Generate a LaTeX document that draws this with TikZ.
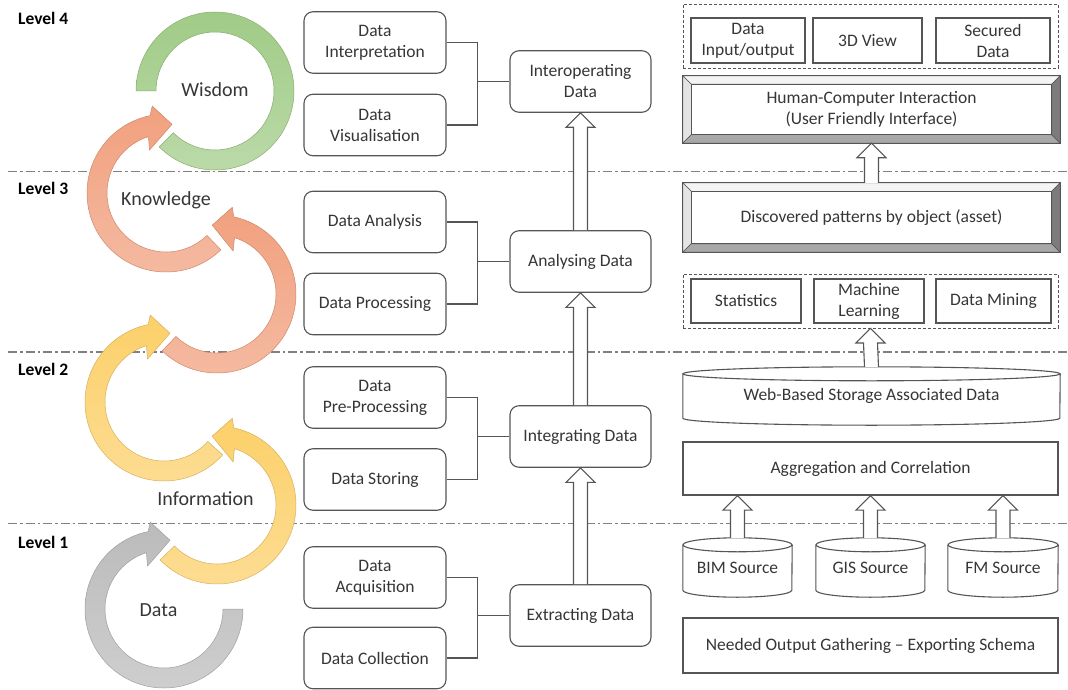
\documentclass[tikz,border=0pt]{standalone}
\usepackage{fontspec}
\setmainfont{Carlito}
\usetikzlibrary{calc}
\definecolor{txt}{HTML}{363636}
\definecolor{bord}{HTML}{555555}
\definecolor{dashc}{HTML}{808080}
\definecolor{cgray}{HTML}{BBBBBB}
\definecolor{cyel}{HTML}{FCD06A}
\definecolor{cora}{HTML}{F1A07E}
\definecolor{cgreen}{HTML}{A0CB86}
\definecolor{bvtop}{HTML}{F4F4F4}
\definecolor{bvleft}{HTML}{E4E4E4}
\definecolor{bvbot}{HTML}{A8A8A8}
\definecolor{bvright}{HTML}{7C7C7C}
\tikzset{
  every node/.style={text=txt, font=\fontsize{17.5}{21}\selectfont, align=center, inner sep=0pt},
  rbox/.style={draw=bord, line width=1.1pt, rounded corners=9pt, fill=white, minimum height=61.5pt},
  sbox/.style={draw=bord, line width=1.1pt, fill=white},
  grp/.style={draw=bord, line width=0.9pt, dash pattern=on 3pt off 2pt},
  lvl/.style={font=\fontsize{17.5}{20}\selectfont\bfseries, text=black, anchor=west},
  bigl/.style={font=\fontsize{20}{24}\selectfont},
  ring/.style={top color=#1, bottom color=#1!72!white, draw=#1!85!black, line width=0.5pt},
  blk/.style={draw=bord, line width=1.1pt, fill=white, line join=miter},
  conn/.style={draw=bord, line width=1.1pt},
  sep/.style={draw=dashc, line width=1.2pt, dash pattern=on 9pt off 3pt on 2.5pt off 3pt},
  face/.style={fill=#1, draw=bord, line width=0.6pt},
}
\newcommand\cwring[4]{\path[ring=#4, shift={(#1,#2)}] (#3:79pt) arc[start angle=#3, end angle=-258.4, radius=79pt] -- (-261:88pt) -- (-275:69pt) -- (-249:46pt) -- (-252.7:59pt) arc[start angle=-252.7, end angle=#3, radius=59pt] -- cycle;}
\newcommand\ccwring[4]{\path[ring=#4, shift={(#1,#2)}] (#3:79pt) arc[start angle=#3, end angle=437.75, radius=79pt] -- (440:88pt) -- (454:69pt) -- (429.5:46pt) -- (432.75:59pt) arc[start angle=432.75, end angle=#3, radius=59pt] -- cycle;}
\newcommand\uparr[2]{\draw[blk] ($(#1)+(-7,0)$) -- ($(#2)+(-7,-14.5)$) -- ($(#2)+(-14.5,-14.5)$) -- (#2) -- ($(#2)+(14.5,-14.5)$) -- ($(#2)+(7,-14.5)$) -- ($(#1)+(7,0)$);}
\newcommand\bevel[1]{%
  \path[face=bvtop] (#1.north west) -- (#1.north east) -- ($(#1.north east)+(-8.5,-8.5)$) -- ($(#1.north west)+(8.5,-8.5)$) -- cycle;
  \path[face=bvleft] (#1.north west) -- ($(#1.north west)+(8.5,-8.5)$) -- ($(#1.south west)+(8.5,8.5)$) -- (#1.south west) -- cycle;
  \path[face=bvbot] (#1.south west) -- ($(#1.south west)+(8.5,8.5)$) -- ($(#1.south east)+(-8.5,8.5)$) -- (#1.south east) -- cycle;
  \path[face=bvright] (#1.south east) -- ($(#1.south east)+(-8.5,8.5)$) -- ($(#1.north east)+(-8.5,-8.5)$) -- (#1.north east) -- cycle;
  \draw[bord, line width=1.1pt] (#1.north west) rectangle (#1.south east);
  \draw[bord, line width=1pt] ($(#1.north west)+(8.5,-8.5)$) rectangle ($(#1.south east)+(-8.5,8.5)$);}
\newcommand\cyl[2]{%
  \draw[bord, line width=1.1pt] ($(#1.north west)+(0,-7)$) -- ($(#1.south west)+(0,7)$) arc[start angle=180, end angle=360, x radius=#2pt, y radius=7pt] -- ($(#1.north east)+(0,-7)$);
  \draw[bord, line width=1.1pt] ($(#1.north)+(0,-7)$) ellipse[x radius=#2pt, y radius=7pt];}
\begin{document}
\begin{tikzpicture}[x=1pt,y=1pt]
\useasboundingbox (0,0) rectangle (1068,-690);
% level separators
\foreach \yy in {171.5,352,523.5} \draw[sep] (8,-\yy) -- (1068,-\yy);
% level labels
\node[lvl] (l4) at (18,-18) {Level 4};
\node[lvl] (l3) at (18,-188) {Level 3};
\node[lvl] (l2) at (18,-369) {Level 2};
\node[lvl] (l1) at (18,-542) {Level 1};
% cycle arrows
\cwring{164}{-609}{0}{cgray}
\ccwring{217}{-505}{224}{cyel}
\cwring{164}{-402}{-42}{cyel}
\ccwring{217}{-294}{226}{cora}
\cwring{166}{-193}{-46}{cora}
\path[ring=cgreen, shift={(215,-91)}] (180:79pt) arc[start angle=180, end angle=-135, radius=79pt] -- (-135:59pt) arc[start angle=-135, end angle=180, radius=59pt] -- cycle;
\node[bigl] (wisdom) at (215,-90) {Wisdom};
\node[bigl] (knowledge) at (166,-200) {Knowledge};
\node[bigl] (information) at (205.5,-499) {Information};
\node[bigl] (data) at (158.5,-610) {Data};
% middle column
\node[rbox, minimum width=142pt] (interp) at (375,-42.5) {Data\\Interpretation};
\node[rbox, minimum width=142pt] (visual) at (375,-125) {Data\\Visualisation};
\node[rbox, minimum width=142pt] (analysis) at (375,-222) {Data Analysis};
\node[rbox, minimum width=142pt] (processing) at (375,-304) {Data Processing};
\node[rbox, minimum width=142pt] (preproc) at (375,-397.5) {Data\\Pre-Processing};
\node[rbox, minimum width=142pt] (storing) at (375,-479.5) {Data Storing};
\node[rbox, minimum width=142pt] (acquis) at (375,-577.5) {Data\\Acquisition};
\node[rbox, minimum width=142pt] (collect) at (375,-658) {Data Collection};
\node[rbox, minimum width=141pt] (interop) at (580.5,-81.5) {Interoperating\\Data};
\node[rbox, minimum width=141pt] (analysing) at (580.5,-261.5) {Analysing Data};
\node[rbox, minimum width=141pt] (integr) at (580.5,-436.5) {Integrating Data};
\node[rbox, minimum width=141pt] (extract) at (580.5,-615.5) {Extracting Data};
\path (interop.west) ++(-32,0) coordinate (j4);
\path (analysing.west) ++(-32,0) coordinate (j3);
\path (integr.west) ++(-32,0) coordinate (j2);
\path (extract.west) ++(-32,0) coordinate (j1);
\draw[conn] (interp.east) -| (j4) |- (visual.east);
\draw[conn] (j4) -- (interop.west);
\draw[conn] (analysis.east) -| (j3) |- (processing.east);
\draw[conn] (j3) -- (analysing.west);
\draw[conn] (preproc.east) -| (j2) |- (storing.east);
\draw[conn] (j2) -- (integr.west);
\draw[conn] (acquis.east) -| (j1) |- (collect.east);
\draw[conn] (j1) -- (extract.west);
\uparr{extract.north}{integr.south}
\uparr{integr.north}{analysing.south}
\uparr{analysing.north}{interop.south}
% right column
\node[grp, minimum width=375pt, minimum height=64pt] (grp1) at (870.5,-36) {};
\node[sbox, minimum width=114pt, minimum height=45pt] (dio) at (748,-40.5) {Data\\Input/output};
\node[sbox, minimum width=109pt, minimum height=45pt] (v3d) at (867.5,-40.5) {3D View};
\node[sbox, minimum width=114pt, minimum height=45pt] (sec) at (993,-40.5) {Secured\\Data};
\node[fill=white, minimum width=377pt, minimum height=67pt] (hci) at (871.5,-109.5) {Human-Computer Interaction\\(User Friendly Interface)};
\bevel{hci}
\node[fill=white, minimum width=377pt, minimum height=69pt] (disc) at (871.5,-217.5) {Discovered patterns by object (asset)};
\bevel{disc}
\node[grp, minimum width=375pt, minimum height=54pt] (grp2) at (870.5,-301) {};
\node[sbox, minimum width=110pt, minimum height=44pt] (stat) at (746,-301) {Statistics};
\node[sbox, minimum width=110pt, minimum height=44pt] (ml) at (869,-301) {Machine\\Learning};
\node[sbox, minimum width=115pt, minimum height=44pt] (dm) at (993.5,-301) {Data Mining};
\node[minimum width=377pt, minimum height=58pt] (web) at (871.5,-396) {Web-Based Storage Associated Data};
\cyl{web}{188.5}
\node[sbox, minimum width=375pt, minimum height=53pt] (agg) at (870.5,-468.5) {Aggregation and Correlation};
\node[minimum width=109pt, minimum height=59pt] (bim) at (737.5,-567.5) {BIM Source};
\cyl{bim}{54.5}
\node[minimum width=109pt, minimum height=59pt] (gis) at (870.5,-567.5) {GIS Source};
\cyl{gis}{54.5}
\node[minimum width=110pt, minimum height=59pt] (fm) at (1003,-567.5) {FM Source};
\cyl{fm}{55}
\node[sbox, minimum width=375pt, minimum height=55pt] (need) at (870.5,-645.5) {Needed Output Gathering -- Exporting Schema};
\uparr{disc.north}{hci.south}
\uparr{web.north}{grp2.south}
\uparr{bim.north}{bim.north |- agg.south}
\uparr{gis.north}{gis.north |- agg.south}
\uparr{fm.north}{fm.north |- agg.south}
\end{tikzpicture}
\end{document}
